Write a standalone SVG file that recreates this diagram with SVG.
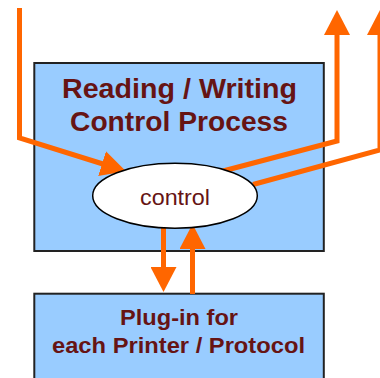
<svg xmlns="http://www.w3.org/2000/svg" width="380" height="378" viewBox="0 0 380 378">
  <style>
    .box { fill: #99CCFF; stroke: #222222; stroke-width: 2; }
    .oval { fill: #FFFFFF; stroke: #000000; stroke-width: 1.5; }
    .title { font-family: "Liberation Sans", Arial, sans-serif; font-weight: bold; fill: #661414; text-anchor: middle; }
    .label { font-family: "Liberation Sans", Arial, sans-serif; fill: #661414; text-anchor: middle; }
    .flow { fill: none; stroke: #FF6600; stroke-width: 5; stroke-linejoin: miter; }
  </style>
  <defs>
    <marker id="head" markerUnits="userSpaceOnUse" viewBox="0 0 25 26" markerWidth="25" markerHeight="26" refX="1" refY="13" orient="auto">
      <path d="M0,0 L25,13 L0,26 Z" fill="#FF6600"/>
    </marker>
  </defs>

  <rect width="380" height="378" fill="#FFFFFF"/>

  <!-- upper process box -->
  <g id="process">
    <rect class="box" x="34.3" y="63" width="289.5" height="188"/>
    <text class="title" x="179.5" y="98" font-size="27" textLength="235" lengthAdjust="spacingAndGlyphs">Reading / Writing</text>
    <text class="title" x="179" y="131" font-size="27" textLength="218" lengthAdjust="spacingAndGlyphs">Control Process</text>
  </g>

  <!-- lower plug-in box -->
  <g id="plugin">
    <rect class="box" x="34.3" y="293.7" width="289.5" height="100"/>
    <text class="title" x="179" y="325" font-size="22" textLength="118" lengthAdjust="spacingAndGlyphs">Plug-in for</text>
    <text class="title" x="178.5" y="353" font-size="22" textLength="253" lengthAdjust="spacingAndGlyphs">each Printer / Protocol</text>
  </g>

  <!-- flows -->
  <g id="connectors">
    <polyline class="flow" points="19.5,8 19.5,138 103,164" marker-end="url(#head)"/>
    <polyline class="flow" points="223,171 337,141 337,34" marker-end="url(#head)"/>
    <polyline class="flow" points="253,184.5 380,150 380,34" marker-end="url(#head)"/>
    <line class="flow" x1="163.5" y1="226" x2="163.5" y2="268" marker-end="url(#head)"/>
    <line class="flow" x1="192.5" y1="294" x2="192.5" y2="248" marker-end="url(#head)"/>
  </g>

  <!-- control oval -->
  <g id="control">
    <ellipse class="oval" cx="175" cy="195.8" rx="82.3" ry="32.5"/>
    <text class="label" x="175" y="204.5" font-size="22" textLength="70" lengthAdjust="spacingAndGlyphs">control</text>
  </g>
</svg>
